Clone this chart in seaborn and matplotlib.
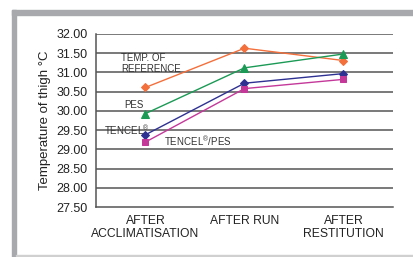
import pandas as pd
import matplotlib
matplotlib.use("Agg")
import matplotlib.pyplot as plt
import seaborn as sns
from matplotlib.patches import Rectangle

stages = ["AFTER\nACCLIMATISATION", "AFTER RUN", "AFTER\nRESTITUTION"]
temp_ref = [30.61, 31.63, 31.31]
pes = [29.93, 31.12, 31.48]
tencel = [29.38, 30.72, 30.97]
tencel_pes = [29.19, 30.58, 30.82]

series = [
    ("TEMP. OF REFERENCE", temp_ref, "#f36f3b", "D", 4.5),
    ("PES", pes, "#1b9a55", "^", 6),
    ("TENCEL", tencel, "#2e3192", "D", 4.5),
    ("TENCEL/PES", tencel_pes, "#c4389a", "s", 5),
]

sns.set_style("white")
plt.rcParams["font.family"] = ["Liberation Sans", "DejaVu Sans"]
plt.rcParams["mathtext.fontset"] = "custom"
plt.rcParams["mathtext.rm"] = "Liberation Sans"

fig = plt.figure(figsize=(4.14, 2.57), dpi=100)
ax = fig.add_axes([96/414, 1-207/257, 297/414, 173/257])

for name, vals, col, mk, ms in series:
    df = pd.DataFrame({"x": range(len(stages)), "y": vals})
    sns.lineplot(data=df, x="x", y="y", ax=ax, color=col, marker=mk,
                 markersize=ms, markeredgecolor=col, linewidth=1, zorder=3)

ax.set_xlim(-0.5, 2.5)
ax.set_ylim(27.5, 32.0)
yt = [27.5 + 0.5*i for i in range(10)]
ax.set_yticks(yt)
ax.set_yticklabels([f"{v:.2f}" for v in yt], fontsize=9, color="#222222")
for v in yt[1:]:
    ax.axhline(v, color="#555555", lw=1.1, zorder=1)
ax.set_xticks(range(3))
ax.set_xticklabels(stages, fontsize=8.7, color="#222222", linespacing=1.1)
ax.set_xticks([-0.5, 0.5, 1.5, 2.5], minor=True)
ax.tick_params(axis="x", which="major", length=0, pad=6)
ax.tick_params(axis="x", which="minor", length=3, width=1, color="#555555", direction="out")
ax.tick_params(axis="y", length=4, width=1, color="#555555", direction="out", pad=2)
for s in ["top", "right"]:
    ax.spines[s].set_visible(False)
for s in ["left", "bottom"]:
    ax.spines[s].set_color("#555555")
    ax.spines[s].set_linewidth(1.1)
ax.set_xlabel("")
ax.set_ylabel("Temperature of thigh °C", fontsize=9.5, color="#222222", labelpad=4)

tk = dict(fontsize=7, color="#333333", va="center", ha="left", zorder=4)
ax.text(-0.247, 31.23, "TEMP. OF\nREFERENCE", linespacing=1.05, **tk)
ax.text(-0.217, 30.15, "PES", **tk)
ax.text(-0.42, 29.5, r"TENCEL$^{\mathrm{®}}$", **tk)
ax.text(0.187, 29.21, r"TENCEL$^{\mathrm{®}}$/PES", **tk)

# frame
fig.patches.append(Rectangle((12/414, 0), 4/414, 1-10/257, transform=fig.transFigure,
                             color="#a7a9ac", zorder=0))
fig.patches.append(Rectangle((12/414, 1-15/257), 1, 5/257, transform=fig.transFigure,
                             color="#a7a9ac", zorder=0))
fig.patches.append(Rectangle((16/414, 1-256/257), 1, 1.5/257, transform=fig.transFigure,
                             color="#d0d0d0", zorder=0))

plt.savefig("out.png", dpi=100)
